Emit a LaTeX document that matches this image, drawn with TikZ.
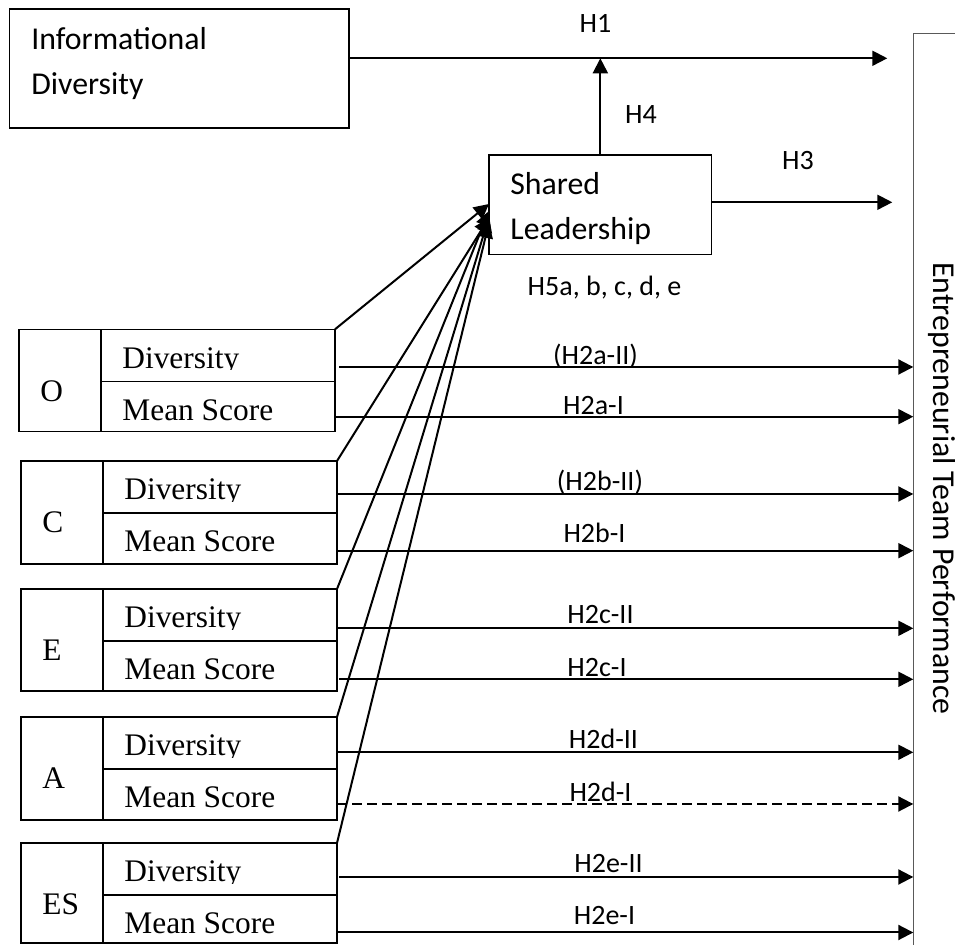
\documentclass[tikz,border=0pt]{standalone}
\usepackage{fontspec}
\usetikzlibrary{arrows.meta}
\newfontfamily\carl{Carlito}
\newfontfamily\tnr{Liberation Serif}
\tikzset{
  bx/.style={draw, line width=0.7pt, inner sep=0pt, outer sep=0pt, anchor=north west},
  txt/.style={inner sep=0pt, anchor=base west, font=\carl\fontsize{15.9}{19}\selectfont},
  ser/.style={inner sep=0pt, anchor=base west, font=\tnr\fontsize{15.7}{19}\selectfont},
  lbl/.style={inner sep=0pt, anchor=base, font=\carl\fontsize{14}{17}\selectfont},
  arr/.style={line width=1pt, -{Triangle[length=7.5pt,width=7.5pt]}},
  darr/.style={arr, dash pattern=on 5pt off 2.5pt}
}
% #1 name, #2 letter, #3 left x, #4 divider x, #5 top y, #6 total height (px)
\newcommand\mkgroup[6]{%
  \node[bx, minimum width=41pt, minimum height={#6*0.5pt}] (#1L) at (#3,#5) {};
  \node[bx, minimum width=117pt, minimum height=26pt] (#1D) at (#4,#5) {};
  \node[bx, minimum width=117pt, minimum height={(#6-52)*0.5pt}] (#1M) at (#4,#5+52) {};
  \node[ser] (#1Lt) at (#3+21,#5+72) {#2};
  \begin{scope}
    \clip (#4,#5) rectangle (#4+234,#5+40.5);
    \node[ser] (#1Dt) at (#4+21,#5+39) {Diversity};
  \end{scope}
  \node[ser] (#1Mt) at (#4+21,#5+91) {Mean Score};
}
\begin{document}
\begin{tikzpicture}[x=0.5pt,y=-0.5pt]
\useasboundingbox (0,0) rectangle (955,945);
\clip (0,0) rectangle (955,945);
\fill[white] (0,0) rectangle (955,945);

% Informational Diversity
\node[bx, minimum width=169.85pt, minimum height=59.5pt] (id) at (9.3,9) {};
\node[txt] (idt1) at (31,50) {Informational};
\node[txt] (idt2) at (31,95) {Diversity};

% Shared Leadership
\node[bx, minimum width=111.35pt, minimum height=49.65pt] (sl) at (489,155) {};
\node[txt] (slt1) at (510,195) {Shared};
\node[txt] (slt2) at (510,240) {Leadership};

% Entrepreneurial Team Performance
\node[draw=black!65, line width=0.5pt, inner sep=0pt, outer sep=0pt, anchor=north west,
      minimum width=60pt, minimum height=480pt] (etp) at (913.3,33.3) {};
\node[inner sep=0pt, anchor=base west, rotate=-90, font=\carl\fontsize{15.9}{19}\selectfont]
      (etpt) at (933,262) {Entrepreneurial Team Performance};

% groups
\mkgroup{O}{O}{19}{101}{329.3}{102.4}
\mkgroup{C}{C}{21}{103}{461}{103}
\mkgroup{E}{E}{21}{103}{589}{102}
\mkgroup{A}{A}{21}{103}{717}{103}
\mkgroup{ES}{ES}{21}{103}{843}{100}

% top arrows
\coordinate (h1end) at (887.3,58.3);
\coordinate (h3end) at (892.3,202.3);
\draw[arr] (id.north east |- h1end) -- (h1end);
\draw[arr] (sl.north) -- (sl.north |- h1end);
\draw[arr] (sl.east |- h3end) -- (h3end);
\node[lbl] (lh1) at (595.5,32.3) {H1};
\node[lbl] (lh4) at (641,124) {H4};
\node[lbl] (lh3) at (798,170) {H3};
\node[lbl] (lh5) at (604.5,296) {H5a, b, c, d, e};

% slanted arrows to shared leadership
\draw[arr] (OD.north east) -- (sl.west |- 0,204);
\draw[arr] (CD.north east) -- (sl.west |- 0,218);
\draw[arr] (ED.north east) -- (sl.west |- 0,211);
\draw[arr] (AD.north east) -- (sl.west |- 0,217);
\draw[arr] (ESD.north east) -- (sl.west |- 0,223);

% horizontal arrows
\draw[arr] ([xshift=2pt]OD.east |- 0,367) -- (etp.west |- 0,367);
\draw[arr] (OM.east |- 0,416.7) -- (etp.west |- 0,416.7);
\draw[arr] (CD.east |- 0,494) -- (etp.west |- 0,494);
\draw[arr] (CM.east |- 0,550.7) -- (etp.west |- 0,550.7);
\draw[arr] (ED.east |- 0,628.3) -- (etp.west |- 0,628.3);
\draw[arr] ([xshift=1pt]EM.east |- 0,679.3) -- (etp.west |- 0,679.3);
\draw[arr] (AD.east |- 0,752.3) -- (etp.west |- 0,752.3);
\draw[darr] (AM.east |- 0,804) -- (etp.west |- 0,804);
\draw[arr] ([xshift=1pt]ESD.east |- 0,877) -- (etp.west |- 0,877);
\draw[arr] (ESM.east |- 0,932.5) -- (etp.west |- 0,932.5);

\node[lbl] (l2aII) at (595.5,364.3) {(H2a-II)};
\node[lbl] (l2aI) at (593.5,415) {H2a-I};
\node[lbl] (l2bII) at (600,491) {(H2b-II)};
\node[lbl] (l2bI) at (594.5,542.7) {H2b-I};
\node[lbl] (l2cII) at (600.5,623.3) {H2c-II};
\node[lbl] (l2cI) at (597,676.7) {H2c-I};
\node[lbl] (l2dII) at (603.5,748.3) {H2d-II};
\node[lbl] (l2dI) at (600.5,801.7) {H2d-I};
\node[lbl] (l2eII) at (608.5,872.7) {H2e-II};
\node[lbl] (l2eI) at (604.5,925) {H2e-I};
\end{tikzpicture}
\end{document}
